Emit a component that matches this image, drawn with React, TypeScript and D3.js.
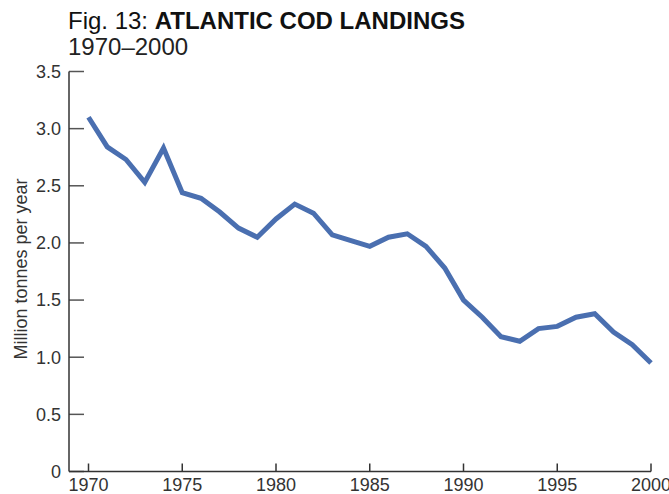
import React from "react";
import * as d3 from "d3";

const years: number[] = [
  1970, 1971, 1972, 1973, 1974, 1975, 1976, 1977, 1978, 1979, 1980,
  1981, 1982, 1983, 1984, 1985, 1986, 1987, 1988, 1989, 1990,
  1991, 1992, 1993, 1994, 1995, 1996, 1997, 1998, 1999, 2000,
];
const landings: number[] = [
  3.1, 2.84, 2.73, 2.53, 2.83, 2.44, 2.39, 2.27, 2.13, 2.05, 2.21,
  2.34, 2.26, 2.07, 2.02, 1.97, 2.05, 2.08, 1.97, 1.78, 1.5,
  1.35, 1.18, 1.14, 1.25, 1.27, 1.35, 1.38, 1.22, 1.11, 0.95,
];
const yTicks: number[] = [0, 0.5, 1.0, 1.5, 2.0, 2.5, 3.0, 3.5];
const xTicks: number[] = [1970, 1975, 1980, 1985, 1990, 1995, 2000];

const W = 669;
const H = 494;
const left = 69;
const right = 651;
const top = 71.5;
const bottom = 471.5;
const x1970 = 88.5;

export default function App() {
  const x = d3.scaleLinear().domain([1970, 2000]).range([x1970, right]);
  const y = d3.scaleLinear().domain([0, 3.5]).range([bottom, top]);
  const line = d3
    .line<number>()
    .x((_, i) => x(years[i]))
    .y((d) => y(d));
  const font = "'Liberation Sans', Arial, Helvetica, sans-serif";
  return (
    <svg
      width={W}
      height={H}
      style={{ position: "absolute", left: 0, top: 0, background: "#fff" }}
      fontFamily={font}
    >
      <text x={68} y={28.5} fontSize={24} fill="#111">
        <tspan>Fig. 13: </tspan>
        <tspan fontWeight="bold">ATLANTIC COD LANDINGS</tspan>
      </text>
      <text x={68} y={55} fontSize={24} fill="#222">
        1970–2000
      </text>
      <text
        transform={`translate(27, 269) rotate(-90)`}
        textAnchor="middle"
        fontSize={18}
        fill="#333"
      >
        Million tonnes per year
      </text>
      {yTicks.map((t) => (
        <g key={t}>
          <line
            x1={left}
            x2={left + 15}
            y1={y(t)}
            y2={y(t)}
            stroke="#555"
            strokeWidth={1.5}
          />
          <text
            x={61}
            y={y(t)}
            dy="0.35em"
            textAnchor="end"
            fontSize={18}
            fill="#333"
          >
            {t === 0 ? "0" : t.toFixed(1)}
          </text>
        </g>
      ))}
      {xTicks.map((t) => (
        <g key={t}>
          <line
            x1={x(t)}
            x2={x(t)}
            y1={bottom}
            y2={bottom - 8}
            stroke="#333"
            strokeWidth={1.5}
          />
          <text
            x={x(t)}
            y={490.5}
            textAnchor="middle"
            fontSize={18}
            fill="#333"
          >
            {t}
          </text>
        </g>
      ))}
      <line x1={left} x2={left} y1={top} y2={bottom} stroke="#333" strokeWidth={1.5} />
      <line x1={left} x2={right} y1={bottom} y2={bottom} stroke="#333" strokeWidth={1.5} />
      <path
        d={line(landings) || ""}
        fill="none"
        stroke="#4a6fb0"
        strokeWidth={5}
        strokeLinejoin="miter"
      />
    </svg>
  );
}
